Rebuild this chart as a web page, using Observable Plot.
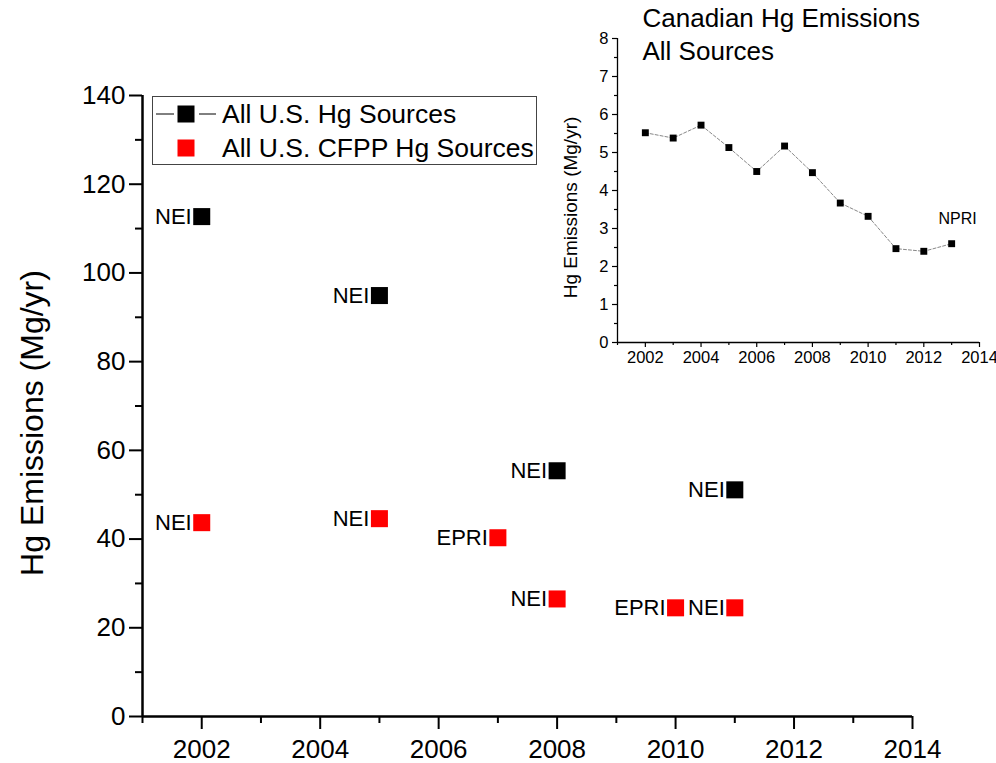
<!DOCTYPE html>
<html>
<head>
<meta charset="utf-8">
<script src="https://cdn.jsdelivr.net/npm/d3@7"></script>
<script src="https://cdn.jsdelivr.net/npm/@observablehq/plot@0.6"></script>
<style>
  html, body { margin: 0; padding: 0; background: #fff; }
  #wrap { position: relative; width: 996px; height: 763px; font-family: "Liberation Sans", Arial, sans-serif; }
  #main, #inset { position: absolute; top: 0; }
  #main { left: 0; }
  #inset { left: 540px; }
  #legend { position: absolute; left: 152px; top: 96px; width: 383px; height: 67px; border: 1px solid #444; background: #fff; }
  .lrow { display: flex; align-items: center; height: 34px; font-size: 26.5px; color: #000; white-space: nowrap; }
  .lrow svg { flex: none; }
</style>
</head>
<body>
<div id="wrap">
  <div id="main"></div>
  <div id="legend"></div>
  <div id="inset"></div>
</div>
<script>
// ---- Data ----
const usYears = [2002, 2005, 2008, 2011];
const usValues = [112.7, 94.9, 55.4, 51.1];
const usSources = ["NEI", "NEI", "NEI", "NEI"];

const cfppYears = [2002, 2005, 2007, 2008, 2010, 2011];
const cfppValues = [43.7, 44.6, 40.3, 26.5, 24.5, 24.5];
const cfppSources = ["NEI", "NEI", "EPRI", "NEI", "EPRI", "NEI"];

const canYears = [2002, 2003, 2004, 2005, 2006, 2007, 2008, 2009, 2010, 2011, 2012, 2013];
const canValues = [5.52, 5.38, 5.72, 5.13, 4.50, 5.17, 4.47, 3.67, 3.32, 2.47, 2.40, 2.60];
const canSourceLabel = "NPRI";

const seriesNames = ["All U.S. Hg Sources", "All U.S. CFPP Hg Sources"];
const seriesColors = ["#000000", "#ff0000"];

const mainYTicks = [0, 20, 40, 60, 80, 100, 120, 140];
const mainYMinor = [10, 30, 50, 70, 90, 110, 130];
const xTicks = [2002, 2004, 2006, 2008, 2010, 2012, 2014];
const xMinor = [2001, 2003, 2005, 2007, 2009, 2011, 2013];
const insetYTicks = [0, 1, 2, 3, 4, 5, 6, 7, 8];
const insetYMinor = [0.5, 1.5, 2.5, 3.5, 4.5, 5.5, 6.5, 7.5];

const mainYLabel = "Hg Emissions (Mg/yr)";
const insetTitle = ["Canadian Hg Emissions", "All Sources"];

// ---- Tables ----
const us = usYears.map((year, i) => ({year, value: usValues[i], src: usSources[i]}));
const cfpp = cfppYears.map((year, i) => ({year, value: cfppValues[i], src: cfppSources[i]}));
const can = canYears.map((year, i) => ({year, value: canValues[i]}));

const font = "'Liberation Sans', Arial, sans-serif";

// ---- Main chart ----
const main = Plot.plot({
  width: 996, height: 763,
  marginLeft: 142, marginRight: 84, marginTop: 95, marginBottom: 47,
  style: {fontFamily: font, fontSize: "26px", color: "#000", background: "transparent", overflow: "visible"},
  x: {domain: [2001, 2014]},
  y: {domain: [0, 140]},
  marks: [
    Plot.axisX({ticks: xTicks, tickFormat: d => String(d), tickSize: 13, tickPadding: 10, strokeWidth: 2, label: null, fontSize: 26}),
    Plot.axisX({ticks: xMinor, tickFormat: () => "", tickSize: 7, strokeWidth: 2, label: null}),
    Plot.axisY({ticks: mainYTicks, tickFormat: d => String(d), tickSize: 13, tickPadding: 4, strokeWidth: 2, label: null, fontSize: 26}),
    Plot.axisY({ticks: mainYMinor, tickFormat: () => "", tickSize: 7, strokeWidth: 2, label: null}),
    Plot.ruleY([0], {strokeWidth: 2.5}),
    Plot.ruleX([2001], {strokeWidth: 2.5}),
    Plot.text([mainYLabel], {text: d => d, frameAnchor: "left", textAnchor: "middle", rotate: -90, dx: -110, dy: 17, fontSize: 32}),
    Plot.dot(us, {x: "year", y: "value", symbol: "square", r: 9.6, fill: seriesColors[0], stroke: null}),
    Plot.text(us, {x: "year", y: "value", text: "src", textAnchor: "end", dx: -10, fontSize: 22}),
    Plot.dot(cfpp, {x: "year", y: "value", symbol: "square", r: 9.6, fill: seriesColors[1], stroke: null}),
    Plot.text(cfpp, {x: "year", y: "value", text: "src", textAnchor: "end", dx: -10, fontSize: 22})
  ]
});
document.getElementById("main").appendChild(main);

// ---- Legend ----
const legend = document.getElementById("legend");
seriesNames.forEach((name, i) => {
  const row = document.createElement("div");
  row.className = "lrow";
  const lines = i === 0
    ? `<line x1="3" x2="21" y1="17" y2="17" stroke="#000" stroke-width="1"/><line x1="46" x2="63" y1="17" y2="17" stroke="#000" stroke-width="1"/>`
    : "";
  row.innerHTML = `<svg width="69" height="34">${lines}<rect x="24.5" y="8.5" width="17" height="17" fill="${seriesColors[i]}"/></svg><span>${name}</span>`;
  legend.appendChild(row);
});

// ---- Inset ----
const inset = Plot.plot({
  width: 456, height: 380,
  marginLeft: 77, marginRight: 17, marginTop: 38, marginBottom: 38,
  style: {fontFamily: font, fontSize: "16px", color: "#000", background: "transparent", overflow: "visible"},
  x: {domain: [2001, 2014]},
  y: {domain: [0, 8]},
  marks: [
    Plot.axisX({ticks: xTicks, tickFormat: d => String(d), tickSize: 5, tickPadding: 4, strokeWidth: 1.2, label: null, fontSize: 16.5}),
    Plot.axisX({ticks: xMinor, tickFormat: () => "", tickSize: 3, strokeWidth: 1.2, label: null}),
    Plot.axisY({ticks: insetYTicks, tickFormat: d => String(d), tickSize: 5, tickPadding: 4, strokeWidth: 1.2, label: null, fontSize: 16.5}),
    Plot.axisY({ticks: insetYMinor, tickFormat: () => "", tickSize: 3, strokeWidth: 1.2, label: null}),
    Plot.ruleY([0], {strokeWidth: 1.3}),
    Plot.ruleX([2001], {strokeWidth: 1.3}),
    Plot.text([mainYLabel], {text: d => d, frameAnchor: "left", textAnchor: "middle", rotate: -90, dx: -47, dy: 17, fontSize: 19}),
    Plot.text([insetTitle.join("\n")], {text: d => d, frameAnchor: "top-left", textAnchor: "start", lineAnchor: "top", dx: 25, dy: -35, fontSize: 26, lineHeight: 1.27}),
    Plot.line(can, {x: "year", y: "value", stroke: "#888", strokeWidth: 1, strokeDasharray: "3,2"}),
    Plot.dot(can, {x: "year", y: "value", symbol: "square", r: 3.9, fill: "#000", stroke: null}),
    Plot.text(can.slice(-1), {x: "year", y: "value", text: () => canSourceLabel, dx: 6, dy: -25, fontSize: 16})
  ]
});
document.getElementById("inset").appendChild(inset);
</script>
</body>
</html>
